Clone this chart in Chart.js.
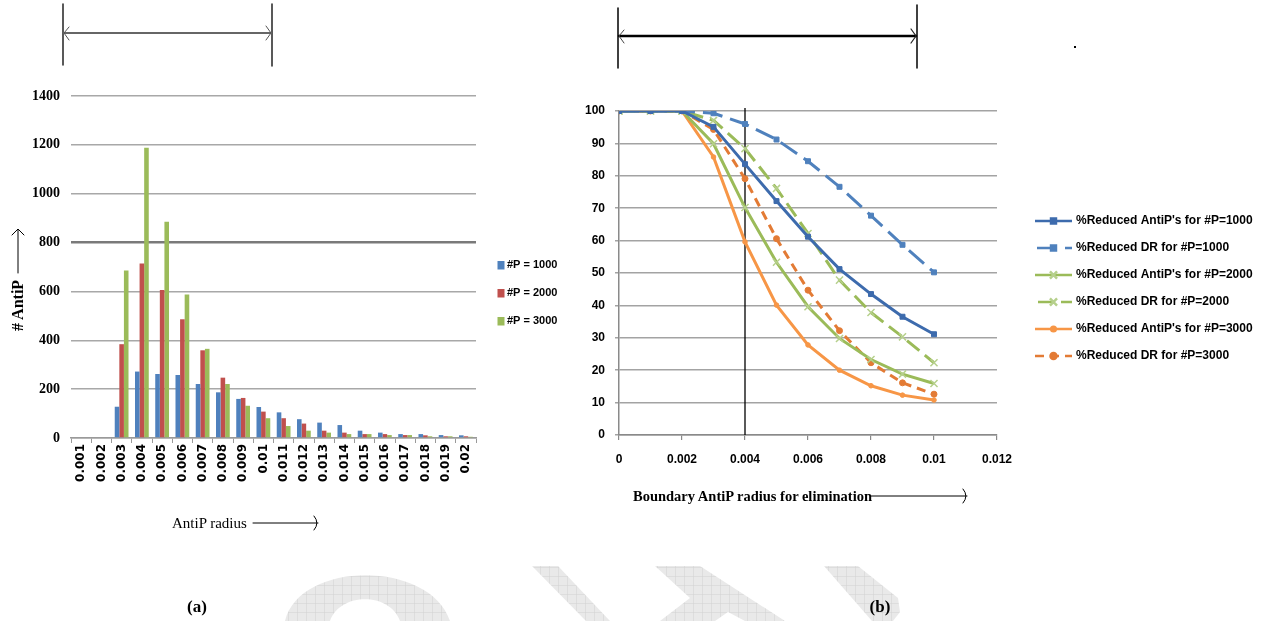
<!DOCTYPE html>
<html><head><meta charset="utf-8">
<script src="https://cdn.jsdelivr.net/npm/chart.js@4.4.0/dist/chart.umd.min.js"></script>
<style>
html,body{margin:0;padding:0;background:#fff;width:1266px;height:621px;overflow:hidden;}
body{position:relative;}
#wm,#ov{position:absolute;left:0;top:0;}
#c1{position:absolute;left:0;top:0;width:560px;height:621px;}
#c2{position:absolute;left:560px;top:0;width:706px;height:621px;}
</style></head><body>
<svg id="wm" width="1266" height="621" xmlns="http://www.w3.org/2000/svg">
 <defs>
  <pattern id="grid" width="9" height="9" patternUnits="userSpaceOnUse">
   <rect width="9" height="9" fill="#e9e9e9"/>
   <path d="M9 0 L0 0 0 9" fill="none" stroke="#d2d2d2" stroke-width="1"/>
  </pattern>
 </defs>
 <g fill="url(#grid)">
  <path fill-rule="evenodd" d="M285,621 C300,560 430,560 450,621 Z M330,621 C340,592 390,592 400,621 Z"/>
  <polygon points="532,566 558,566 610,621 586,621"/>
  <polygon points="655,566 700,566 785,621 745,621 728,612 715,621 660,621 690,598"/>
  <polygon points="824,566 858,566 898,598 900,612 893,621 872,621"/>
 </g>
</svg>
<canvas id="c1" width="560" height="621"></canvas>
<canvas id="c2" width="706" height="621"></canvas>
<svg id="ov" width="1266" height="621" xmlns="http://www.w3.org/2000/svg">
 <g fill="none" stroke-linecap="round">
  <line x1="63" y1="4" x2="63" y2="65" stroke="#222" stroke-width="1.5"/>
  <line x1="272" y1="4" x2="272" y2="66" stroke="#222" stroke-width="1.5"/>
  <line x1="64" y1="33" x2="271" y2="33" stroke="#666" stroke-width="2"/>
  <polyline points="69,27 64,33 69,40" stroke="#555" stroke-width="1"/>
  <polyline points="266,26 271,33 266,40" stroke="#555" stroke-width="1"/>
  <line x1="618" y1="8" x2="618" y2="68" stroke="#000" stroke-width="1.5"/>
  <line x1="917" y1="5" x2="917" y2="68" stroke="#000" stroke-width="1.5"/>
  <line x1="619" y1="36" x2="916" y2="36" stroke="#000" stroke-width="2.5"/>
  <polyline points="624,30 619,36 624,43" stroke="#444" stroke-width="1"/>
  <polyline points="911,29 916,36 911,43" stroke="#222" stroke-width="1.2"/>
  <rect x="1074" y="46" width="2" height="2" fill="#000" stroke="none"/>
  <!-- axis title arrows -->
  <line x1="18" y1="273" x2="18" y2="230" stroke="#000" stroke-width="1"/>
  <polyline points="12,235 18,229 24,235" stroke="#000" stroke-width="1"/>
  <line x1="253" y1="523" x2="318" y2="523" stroke="#000" stroke-width="1"/>
  <path d="M314,516 Q320,523 314,530" stroke="#000" stroke-width="1"/>
  <line x1="871" y1="496" x2="967" y2="496" stroke="#000" stroke-width="1"/>
  <path d="M963,489 Q969,496 963,503" stroke="#000" stroke-width="1"/>
 </g>
 <g font-family="Liberation Serif, serif" fill="#000">
  <text transform="translate(23,331) rotate(-90)" font-size="16" font-weight="bold">#  AntiP</text>
  <text x="172" y="528" font-size="15">AntiP radius</text>
  <text x="633" y="501" font-size="14.5" font-weight="bold">Boundary AntiP radius for elimination</text>
  <text x="197" y="612" font-size="17" font-weight="bold" text-anchor="middle">(a)</text>
  <text x="880" y="612" font-size="17" font-weight="bold" text-anchor="middle">(b)</text>
 </g>
</svg>
<script>
// ---------- data: chart (a) ----------
const radiusLabels = ['0.001','0.002','0.003','0.004','0.005','0.006','0.007','0.008','0.009','0.01',
  '0.011','0.012','0.013','0.014','0.015','0.016','0.017','0.018','0.019','0.02'];
const countP1000 = [0,0,128,272,262,258,221,187,160,127,105,77,63,53,30,22,16,16,12,11];
const countP2000 = [0,0,384,714,606,486,359,247,164,108,81,59,30,22,16,16,12,11,7,7];
const countP3000 = [0,0,686,1188,885,587,365,221,132,81,49,30,22,16,16,12,12,7,7,5];
const barSeriesNames = ['#P = 1000','#P = 2000','#P = 3000'];
const countMax = 1400, countStep = 200, countHighlight = 800;

// ---------- data: chart (b) ----------
const boundaryRadius = [0,0.001,0.002,0.003,0.004,0.005,0.006,0.007,0.008,0.009,0.01];
const redAntiP1000 = [100,100,100,95.1,83.6,72.2,61.2,51.2,43.5,36.5,31.1];
const redDR1000    = [100,100,100,99.3,96.0,91.2,84.5,76.6,67.7,58.7,50.2];
const redAntiP2000 = [100,100,100,89.9,70.2,53.3,39.6,29.8,23.3,18.8,15.9];
const redDR2000    = [100,100,100,97.1,88.4,76.1,62.2,47.8,37.8,30.3,22.3];
const redAntiP3000 = [100,100,100,85.8,59.6,40.1,27.8,20.0,15.2,12.3,10.8];
const redDR3000    = [100,100,100,94.3,79.1,60.6,44.7,32.2,22.3,16.1,12.6];
const lineSeriesNames = ["%Reduced AntiP's for #P=1000","%Reduced DR for #P=1000",
  "%Reduced AntiP's for #P=2000","%Reduced DR for #P=2000",
  "%Reduced AntiP's for #P=3000","%Reduced DR for #P=3000"];
const xTickLabels = ['0','0.002','0.004','0.006','0.008','0.01','0.012'];
const markerRadius = 0.004;

Chart.defaults.devicePixelRatio = 1;
Chart.defaults.animation = false;

// ---------- chart (a) ----------
const barLegend = {
  id:'barLegend',
  afterDraw(chart){
    const ctx = chart.ctx;
    ctx.save();
    ctx.font = 'bold 11px "Liberation Sans", Arial, sans-serif';
    ctx.textBaseline = 'middle';
    chart.data.datasets.forEach((ds,i)=>{
      const y = 265 + i*28;
      ctx.fillStyle = ds.backgroundColor;
      ctx.fillRect(497.5, y-4, 7, 8.5);
      ctx.fillStyle = '#000';
      ctx.fillText(ds.label, 507, y);
    });
    ctx.restore();
  }
};

new Chart(document.getElementById('c1'), {
  type:'bar',
  data:{
    labels: radiusLabels,
    datasets:[
      {label:barSeriesNames[0], data:countP1000, backgroundColor:'#4F81BD'},
      {label:barSeriesNames[1], data:countP2000, backgroundColor:'#C0504D'},
      {label:barSeriesNames[2], data:countP3000, backgroundColor:'#9BBB59'}
    ]
  },
  options:{
    responsive:false,
    layout:{padding:{left:0,right:84,top:96,bottom:123}},
    datasets:{bar:{categoryPercentage:0.68,barPercentage:1.0}},
    plugins:{legend:{display:false},tooltip:{enabled:false}},
    scales:{
      x:{
        grid:{display:true,drawOnChartArea:false,drawTicks:true,tickLength:5,color:'#9a9a9a',lineWidth:1,offset:true},
        border:{display:true,color:'#9a9a9a',width:1.5},
        ticks:{autoSkip:false,minRotation:90,maxRotation:90,padding:1,color:'#000',
          font:{family:'"DejaVu Sans", sans-serif',weight:'bold',size:12}},
        afterFit(s){ s.height = 60; }
      },
      y:{
        min:0,max:countMax,
        ticks:{stepSize:countStep,padding:11,color:'#000',
          font:{family:'"Liberation Serif", serif',weight:'bold',size:14},
          callback:(v)=>String(v)},
        grid:{drawTicks:false,
          color:(c)=> (c.tick && c.tick.value===countHighlight) ? '#7a7a7a' : '#a8a8a8',
          lineWidth:(c)=> (c.tick && c.tick.value===countHighlight) ? 2.5 : 1.5},
        border:{display:false},
        afterFit(s){ s.width = 71; }
      }
    }
  },
  plugins:[barLegend]
});

// ---------- chart (b) ----------
const pts = (arr)=> arr.map((v,i)=>({x:boundaryRadius[i], y:v}));
const vLine = {
  id:'vLine',
  beforeDatasetsDraw(chart){
    const {ctx, chartArea, scales} = chart;
    const x = scales.x.getPixelForValue(markerRadius);
    ctx.save();
    ctx.strokeStyle = '#000';
    ctx.lineWidth = 1.3;
    ctx.beginPath();
    ctx.moveTo(x, chartArea.top-3);
    ctx.lineTo(x, chartArea.bottom);
    ctx.stroke();
    ctx.restore();
  }
};
const lineLegend = {
  id:'lineLegend',
  afterDraw(chart){
    const ctx = chart.ctx;
    ctx.save();
    ctx.font = 'bold 12px "Liberation Sans", Arial, sans-serif';
    ctx.textBaseline = 'middle';
    chart.data.datasets.forEach((ds,i)=>{
      const y = 221 + i*27;
      const x0 = 475, x1 = 512;
      ctx.strokeStyle = ds.borderColor;
      ctx.lineWidth = 2.5;
      ctx.setLineDash(ds.borderDash || []);
      ctx.lineDashOffset = ds.legendDashOffset || 0;
      ctx.beginPath(); ctx.moveTo(x0,y); ctx.lineTo(x1,y); ctx.stroke();
      ctx.setLineDash([]);
      ctx.fillStyle = ds.pointBackgroundColor;
      ctx.strokeStyle = ds.pointBorderColor;
      Chart.helpers.drawPoint(ctx,{pointStyle:ds.pointStyle,rotation:0,radius:ds.pointRadius,borderWidth:ds.pointBorderWidth},(x0+x1)/2,y);
      ctx.fillStyle = '#000';
      ctx.fillText(ds.label, 516, y);
    });
    ctx.restore();
  }
};

const blueDark = '#3D6BAD', blue = '#4F81BD', green = '#9BBB59', greenMark = '#B6D08C',
      orange = '#F79646', orangeDark = '#E37B35';

new Chart(document.getElementById('c2'), {
  type:'line',
  data:{
    datasets:[
      {label:lineSeriesNames[0], data:pts(redAntiP1000), borderColor:blueDark, borderWidth:3,
        pointStyle:'rect', pointRadius:3.5, pointBackgroundColor:blueDark, pointBorderColor:blueDark, pointBorderWidth:1},
      {label:lineSeriesNames[1], data:pts(redDR1000), borderColor:blue, borderWidth:3, borderDash:[20,8], legendDashOffset:-2,
        pointStyle:'rect', pointRadius:3.5, pointBackgroundColor:blue, pointBorderColor:blue, pointBorderWidth:1},
      {label:lineSeriesNames[2], data:pts(redAntiP2000), borderColor:green, borderWidth:3,
        pointStyle:'crossRot', pointRadius:5, pointBackgroundColor:greenMark, pointBorderColor:greenMark, pointBorderWidth:1.5},
      {label:lineSeriesNames[3], data:pts(redDR2000), borderColor:green, borderWidth:3, borderDash:[16,7], legendDashOffset:-3,
        pointStyle:'crossRot', pointRadius:5, pointBackgroundColor:greenMark, pointBorderColor:greenMark, pointBorderWidth:1.5},
      {label:lineSeriesNames[4], data:pts(redAntiP3000), borderColor:orange, borderWidth:3,
        pointStyle:'circle', pointRadius:2.3, pointBackgroundColor:orange, pointBorderColor:orange, pointBorderWidth:1},
      {label:lineSeriesNames[5], data:pts(redDR3000), borderColor:orangeDark, borderWidth:3, borderDash:[9,6], legendDashOffset:0,
        pointStyle:'circle', pointRadius:3, pointBackgroundColor:orangeDark, pointBorderColor:orangeDark, pointBorderWidth:1}
    ]
  },
  options:{
    responsive:false,
    layout:{padding:{left:0,right:269,top:111,bottom:146}},
    elements:{line:{tension:0}},
    plugins:{legend:{display:false},tooltip:{enabled:false}},
    scales:{
      x:{
        type:'linear',min:0,max:0.012,
        ticks:{stepSize:0.002,padding:12,color:'#000',maxRotation:0,
          font:{family:'"Liberation Sans", Arial, sans-serif',weight:'bold',size:12},
          callback:(v,i)=>xTickLabels[i]},
        grid:{drawOnChartArea:false,drawTicks:true,tickLength:5,color:'#8a8a8a',lineWidth:1.2},
        border:{display:true,color:'#8a8a8a',width:1.5},
        afterFit(s){ s.height = 40; }
      },
      y:{
        min:0,max:100,
        ticks:{stepSize:10,padding:10,color:'#000',
          font:{family:'"Liberation Sans", Arial, sans-serif',weight:'bold',size:12}},
        grid:{drawTicks:true,tickLength:4,color:'#a3a3a3',lineWidth:1.5},
        border:{display:true,color:'#8a8a8a',width:1.5},
        afterFit(s){ s.width = 59; }
      }
    }
  },
  plugins:[vLine,lineLegend]
});
</script>
</body></html>
